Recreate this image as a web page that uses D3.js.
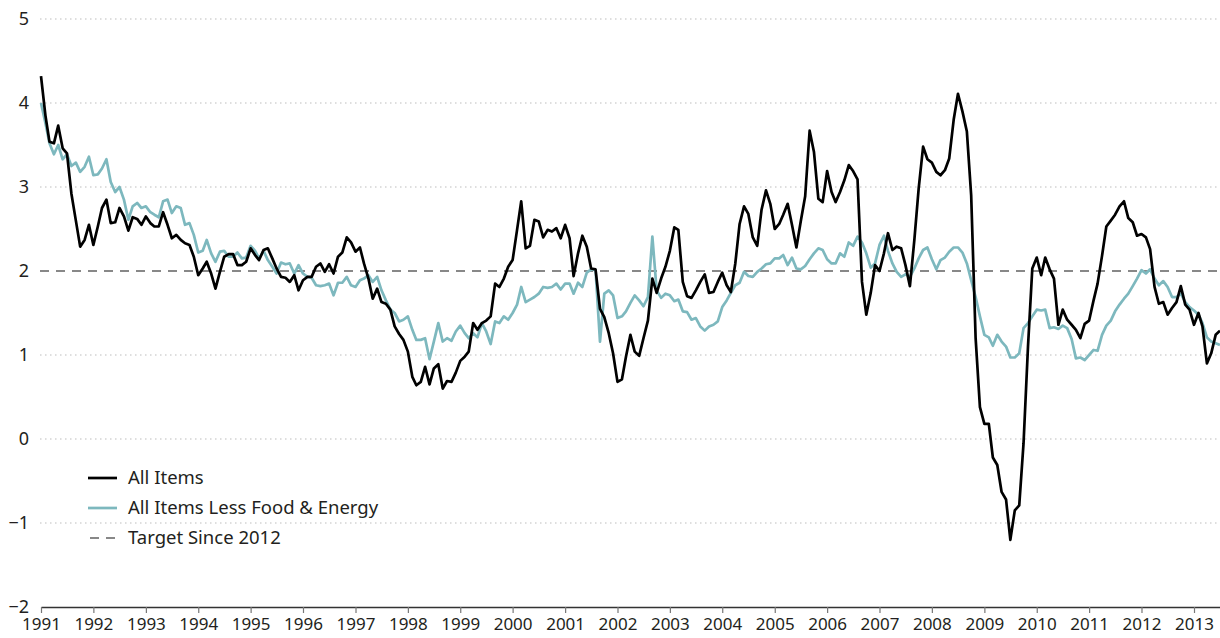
<!DOCTYPE html>
<html>
<head>
<meta charset="utf-8">
<script src="https://cdn.jsdelivr.net/npm/d3@7"></script>
<style>
  html, body { margin: 0; padding: 0; background: #fff; }
  svg { display: block; font-family: "Noto Sans", "Open Sans", sans-serif; }
</style>
</head>
<body>
<svg id="chart" width="1220" height="638"></svg>
<script>
// monthly year-over-year % change, Jan 1991 .. Jul 2013
const startMonth = new Date(1991, 0, 1);

const allItems = [
  4.32, 3.85, 3.54, 3.52, 3.73, 3.46, 3.40, 2.92, 2.60, 2.29, 2.37, 2.55, // 1991
  2.31, 2.53, 2.75, 2.85, 2.57, 2.58, 2.75, 2.65, 2.48, 2.64, 2.62, 2.55, // 1992
  2.65, 2.57, 2.53, 2.53, 2.70, 2.55, 2.39, 2.43, 2.37, 2.33, 2.31, 2.17, // 1993
  1.95, 2.03, 2.11, 1.97, 1.79, 1.99, 2.17, 2.20, 2.20, 2.07, 2.07, 2.11, // 1994
  2.27, 2.19, 2.13, 2.25, 2.27, 2.15, 2.03, 1.93, 1.92, 1.87, 1.95, 1.77, // 1995
  1.89, 1.93, 1.93, 2.05, 2.09, 1.99, 2.08, 1.97, 2.17, 2.22, 2.40, 2.34, // 1996
  2.23, 2.28, 2.09, 1.91, 1.67, 1.79, 1.63, 1.61, 1.54, 1.34, 1.25, 1.18, // 1997
  1.04, 0.74, 0.64, 0.68, 0.86, 0.65, 0.84, 0.89, 0.60, 0.69, 0.68, 0.79, // 1998
  0.93, 0.98, 1.04, 1.38, 1.30, 1.38, 1.41, 1.46, 1.85, 1.81, 1.91, 2.05, // 1999
  2.13, 2.49, 2.83, 2.27, 2.30, 2.61, 2.59, 2.40, 2.49, 2.47, 2.51, 2.39, // 2000
  2.55, 2.39, 1.94, 2.21, 2.42, 2.29, 2.03, 2.02, 1.55, 1.45, 1.26, 1.02, // 2001
  0.68, 0.71, 0.98, 1.24, 1.04, 0.99, 1.20, 1.41, 1.91, 1.74, 1.91, 2.05, // 2002
  2.24, 2.52, 2.49, 1.87, 1.70, 1.68, 1.77, 1.87, 1.96, 1.74, 1.75, 1.87, // 2003
  1.98, 1.83, 1.75, 2.09, 2.56, 2.77, 2.68, 2.40, 2.30, 2.73, 2.96, 2.80, // 2004
  2.50, 2.56, 2.67, 2.80, 2.55, 2.28, 2.59, 2.89, 3.67, 3.42, 2.86, 2.82, // 2005
  3.19, 2.94, 2.82, 2.94, 3.08, 3.26, 3.19, 3.09, 1.87, 1.48, 1.74, 2.07, // 2006
  2.00, 2.21, 2.45, 2.25, 2.29, 2.27, 2.07, 1.82, 2.37, 2.98, 3.48, 3.33, // 2007
  3.29, 3.18, 3.14, 3.20, 3.34, 3.80, 4.11, 3.90, 3.66, 2.90, 1.20, 0.38, // 2008
  0.18, 0.18, -0.22, -0.31, -0.63, -0.72, -1.20, -0.85, -0.79, -0.05, 1.10, 2.03, // 2009
  2.16, 1.95, 2.16, 2.02, 1.91, 1.36, 1.54, 1.42, 1.36, 1.30, 1.20, 1.37, // 2010
  1.41, 1.65, 1.85, 2.18, 2.53, 2.60, 2.67, 2.77, 2.83, 2.63, 2.58, 2.42, // 2011
  2.44, 2.40, 2.26, 1.81, 1.61, 1.63, 1.48, 1.56, 1.63, 1.82, 1.60, 1.54, // 2012
  1.36, 1.50, 1.34, 0.90, 1.02, 1.24, 1.29                                // 2013
];

const coreItems = [
  4.00, 3.76, 3.52, 3.39, 3.50, 3.33, 3.39, 3.25, 3.29, 3.18, 3.24, 3.36, // 1991
  3.14, 3.15, 3.22, 3.33, 3.06, 2.94, 3.00, 2.85, 2.61, 2.77, 2.81, 2.75, // 1992
  2.77, 2.70, 2.67, 2.64, 2.83, 2.85, 2.69, 2.77, 2.75, 2.55, 2.57, 2.43, // 1993
  2.22, 2.24, 2.37, 2.21, 2.11, 2.23, 2.24, 2.17, 2.17, 2.22, 2.15, 2.16, // 1994
  2.30, 2.24, 2.15, 2.24, 2.13, 2.05, 1.97, 2.10, 2.08, 2.09, 1.97, 2.07, // 1995
  1.97, 1.93, 1.92, 1.83, 1.82, 1.83, 1.85, 1.71, 1.86, 1.86, 1.93, 1.83, // 1996
  1.81, 1.89, 1.91, 1.95, 1.87, 1.93, 1.77, 1.65, 1.54, 1.50, 1.40, 1.42, // 1997
  1.46, 1.30, 1.18, 1.18, 1.20, 0.95, 1.16, 1.38, 1.16, 1.20, 1.17, 1.28, // 1998
  1.35, 1.26, 1.20, 1.26, 1.21, 1.38, 1.28, 1.13, 1.40, 1.38, 1.46, 1.42, // 1999
  1.50, 1.60, 1.81, 1.63, 1.66, 1.69, 1.73, 1.81, 1.80, 1.81, 1.85, 1.78, // 2000
  1.85, 1.85, 1.73, 1.86, 1.81, 1.98, 2.02, 2.01, 1.16, 1.73, 1.77, 1.71, // 2001
  1.44, 1.46, 1.52, 1.62, 1.71, 1.65, 1.58, 1.69, 2.41, 1.77, 1.68, 1.73, // 2002
  1.71, 1.64, 1.66, 1.52, 1.51, 1.42, 1.44, 1.34, 1.29, 1.34, 1.36, 1.40, // 2003
  1.57, 1.65, 1.74, 1.83, 1.86, 1.99, 1.94, 1.93, 1.99, 2.03, 2.08, 2.09, // 2004
  2.15, 2.15, 2.19, 2.07, 2.16, 2.03, 2.02, 2.06, 2.14, 2.21, 2.27, 2.25, // 2005
  2.14, 2.09, 2.09, 2.21, 2.17, 2.34, 2.30, 2.41, 2.34, 2.21, 2.04, 2.09, // 2006
  2.31, 2.42, 2.24, 2.09, 1.99, 1.93, 1.96, 1.93, 2.03, 2.15, 2.25, 2.28, // 2007
  2.14, 2.02, 2.13, 2.16, 2.23, 2.28, 2.28, 2.22, 2.09, 1.89, 1.69, 1.46, // 2008
  1.24, 1.21, 1.11, 1.24, 1.16, 1.10, 0.97, 0.97, 1.02, 1.32, 1.38, 1.46, // 2009
  1.54, 1.53, 1.54, 1.32, 1.33, 1.31, 1.35, 1.32, 1.19, 0.96, 0.97, 0.94, // 2010
  1.00, 1.06, 1.05, 1.24, 1.35, 1.41, 1.52, 1.60, 1.67, 1.73, 1.82, 1.91, // 2011
  2.01, 1.97, 2.02, 1.91, 1.83, 1.88, 1.81, 1.69, 1.69, 1.73, 1.63, 1.57, // 2012
  1.53, 1.48, 1.38, 1.21, 1.16, 1.14, 1.12                                // 2013
];

const targetValue = 2;
const yTicks = [-2, -1, 0, 1, 2, 3, 4, 5];
const yearTicks = [1991, 1992, 1993, 1994, 1995, 1996, 1997, 1998, 1999, 2000, 2001, 2002,
                   2003, 2004, 2005, 2006, 2007, 2008, 2009, 2010, 2011, 2012, 2013];
const legendItems = [
  {label: 'All Items', key: 'all'},
  {label: 'All Items Less Food & Energy', key: 'core'},
  {label: 'Target Since 2012', key: 'target'}
];

const colors = {all: '#000000', core: '#7db8be', target: '#888888'};

const svg = d3.select('#chart');
const plot = {left: 41, right: 1220, top: 19, bottom: 607};

const x = d3.scaleTime()
    .domain([new Date(1991, 0, 1), new Date(2013, 0, 1)])
    .range([plot.left, 1194]);
x.domain([x.domain()[0], x.invert(plot.right)]).range([plot.left, plot.right]);

const y = d3.scaleLinear().domain([-2, 5]).range([plot.bottom, plot.top]);

const toPoints = arr => arr.map((v, i) => ({date: d3.timeMonth.offset(startMonth, i), value: v}));
const allData = toPoints(allItems);
const coreData = toPoints(coreItems);

// dotted grid
svg.append('g')
    .selectAll('line')
    .data(yTicks.filter(d => d !== -2 && d !== targetValue))
    .enter().append('line')
    .attr('x1', plot.left - 1)
    .attr('x2', plot.right)
    .attr('y1', d => y(d))
    .attr('y2', d => y(d))
    .attr('stroke', '#bdbdbd')
    .attr('stroke-width', 1.2)
    .attr('stroke-dasharray', '1.5,3.5');

// target line
svg.append('line')
    .attr('x1', plot.left - 1)
    .attr('x2', plot.right)
    .attr('y1', y(targetValue))
    .attr('y2', y(targetValue))
    .attr('stroke', colors.target)
    .attr('stroke-width', 2.2)
    .attr('stroke-dasharray', '9,7');

// y labels
const yAxis = svg.append('g')
    .attr('transform', `translate(${plot.left - 12}, 0)`)
    .call(d3.axisLeft(y).tickValues(yTicks).tickSize(0).tickFormat(d => d < 0 ? '\u2212' + Math.abs(d) : d));
yAxis.select('.domain').remove();
yAxis.selectAll('text')
    .attr('x', 0)
    .style('font-size', '18px')
    .style('fill', '#231f20')
    .style('font-family', '"Noto Sans", sans-serif');

// x axis
const xAxis = svg.append('g')
    .attr('transform', `translate(0, ${plot.bottom})`)
    .call(d3.axisBottom(x)
        .tickValues(yearTicks.map(yr => new Date(yr, 0, 1)))
        .tickFormat(d3.timeFormat('%Y'))
        .tickSize(6)
        .tickSizeOuter(0));
xAxis.select('.domain').attr('stroke', '#333').attr('stroke-width', 1.3);
xAxis.selectAll('.tick line').attr('stroke', '#777').attr('stroke-width', 1.2);
xAxis.selectAll('text')
    .attr('y', 11)
    .style('font-size', '17px')
    .style('fill', '#231f20')
    .style('font-family', '"Noto Sans", sans-serif');

const line = d3.line()
    .x(d => x(d.date))
    .y(d => y(d.value));

svg.append('path')
    .datum(coreData)
    .attr('fill', 'none')
    .attr('stroke', colors.core)
    .attr('stroke-width', 2.7)
    .attr('stroke-linejoin', 'round')
    .attr('d', line);

svg.append('path')
    .datum(allData)
    .attr('fill', 'none')
    .attr('stroke', colors.all)
    .attr('stroke-width', 2.7)
    .attr('stroke-linejoin', 'round')
    .attr('d', line);

// legend
const legend = svg.append('g').attr('transform', 'translate(88, 478)');
const rows = legend.selectAll('g')
    .data(legendItems)
    .enter().append('g')
    .attr('transform', (d, i) => `translate(0, ${i * 30})`);

rows.append('line')
    .attr('x1', d => d.key === 'target' ? 2 : 0)
    .attr('x2', d => d.key === 'target' ? 28 : 29)
    .attr('y1', 0)
    .attr('y2', 0)
    .attr('stroke', d => colors[d.key])
    .attr('stroke-width', d => d.key === 'target' ? 2.2 : 2.7)
    .attr('stroke-dasharray', d => d.key === 'target' ? '9,7' : null);

rows.append('text')
    .attr('x', 40)
    .attr('y', 0)
    .attr('dy', '0.35em')
    .style('font-size', '18.5px')
    .style('fill', '#231f20')
    .text(d => d.label);
</script>
</body>
</html>
